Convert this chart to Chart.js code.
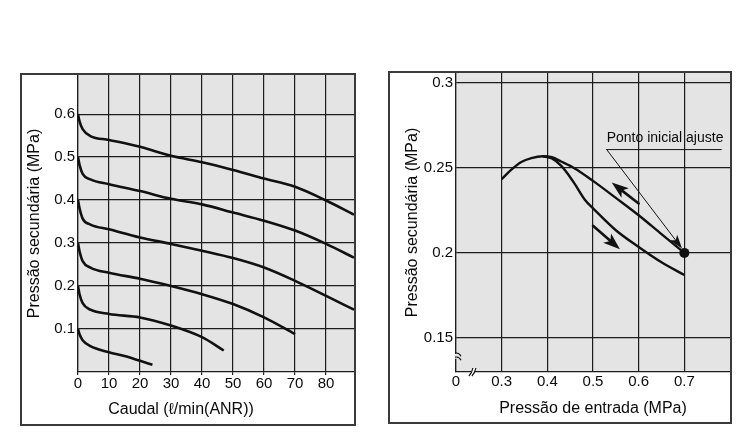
<!DOCTYPE html>
<html>
<head>
<meta charset="utf-8">
<script src="https://cdn.jsdelivr.net/npm/chart.js@4.4.1/dist/chart.umd.min.js"></script>
<style>
  body { margin: 0; background: #fff; width: 751px; height: 448px; position: relative; overflow: hidden; }
  .panel { position: absolute; border: 2px solid #3a3a3a; }
  #boxL { left: 20px; top: 73px; width: 332px; height: 349px; }
  #boxR { left: 388px; top: 71px; width: 340px; height: 349px; }
  canvas { display: block; }
</style>
</head>
<body>
<div class="panel" id="boxL"><canvas id="flowChart" width="332" height="349"></canvas></div>
<div class="panel" id="boxR"><canvas id="pressChart" width="340" height="349"></canvas></div>
<script>
// --- flow characteristics (left) ---
const flowAxis = [0, 0.5, 1.5, 4, 10, 20, 30, 40, 50, 60, 70, 80, 89];
const set06 = [0.6, 0.583, 0.565, 0.549, 0.540, 0.524, 0.503, 0.488, 0.470, 0.450, 0.431, 0.399, 0.366];
const set05 = [0.5, 0.482, 0.461, 0.448, 0.437, 0.421, 0.403, 0.390, 0.371, 0.352, 0.329, 0.298, 0.266];
const set04 = [0.4, 0.381, 0.357, 0.343, 0.332, 0.313, 0.298, 0.282, 0.265, 0.243, 0.212, 0.177, 0.145];
const flowAxis03 = [0, 0.5, 1.5, 4, 10, 20, 30, 40, 50, 60, 70];
const set03 = [0.3, 0.281, 0.258, 0.243, 0.231, 0.217, 0.200, 0.181, 0.158, 0.127, 0.088];
const flowAxis02 = [0, 0.5, 1.5, 4, 10, 20, 30, 40, 47];
const set02 = [0.2, 0.181, 0.160, 0.145, 0.135, 0.127, 0.108, 0.081, 0.050];
const flowAxis01 = [0, 0.5, 1.5, 4, 10, 15, 20, 24];
const set01 = [0.1, 0.088, 0.074, 0.060, 0.046, 0.037, 0.026, 0.017];
const flowTicks = [0, 10, 20, 30, 40, 50, 60, 70, 80];
const outletTicks = [0.1, 0.2, 0.3, 0.4, 0.5, 0.6];

// --- pressure characteristics (right) ---
const inletUpper = [0.3, 0.32, 0.343, 0.365, 0.39, 0.41, 0.43, 0.46, 0.5, 0.55, 0.6, 0.65, 0.7];
const outletUpper = [0.2433, 0.2486, 0.2534, 0.2557, 0.2568, 0.2562, 0.2537, 0.2496, 0.2423, 0.2323, 0.2221, 0.2110, 0.2000];
const inletLower = [0.39, 0.41, 0.43, 0.445, 0.46, 0.483, 0.5, 0.55, 0.6, 0.65, 0.7];
const outletLower = [0.2568, 0.2555, 0.2513, 0.2464, 0.2405, 0.2309, 0.2262, 0.2133, 0.2035, 0.1945, 0.1870];
const setPoint = { x: 0.7, y: 0.2 };
const inletTicks = [0.2, 0.3, 0.4, 0.5, 0.6, 0.7];
const inletTickLabels = ['0', '0.3', '0.4', '0.5', '0.6', '0.7'];
const outlet2Ticks = [0.15, 0.2, 0.25, 0.3];
const outlet2TickLabels = ['0.15', '0.2', '0.25', '0.3'];
const arrowFalling = [[0.6, 0.229], [0.541, 0.2413]];
const arrowRising = [[0.5, 0.2159], [0.559, 0.2021]];
const leader = [[0.781, 0.2607], [0.53, 0.2607], [0.695, 0.2025]];
const noteText = 'Ponto inicial ajuste';
const notePos = [0.53, 0.2676];
const breakY = 0.139;
const breakX = 0.237;

const FONT = '"Liberation Sans", Arial, sans-serif';
Chart.defaults.font.family = FONT;
Chart.defaults.color = '#0a0a0a';

const pts = (xs, ys) => xs.map((x, i) => ({ x: x, y: ys[i] }));

const gridStyle = { color: '#1c1c1c', lineWidth: 1.2 };

const plotBg = {
  id: 'plotBg',
  beforeDraw(chart) {
    const { ctx, chartArea: a } = chart;
    ctx.save();
    ctx.fillStyle = '#e4e4e4';
    ctx.fillRect(a.left, a.top, a.right - a.left, a.bottom - a.top);
    ctx.restore();
  }
};

function curve(data) {
  return {
    data: data,
    borderColor: '#111',
    borderWidth: 2.6,
    pointRadius: 0,
    fill: false,
    cubicInterpolationMode: 'monotone'
  };
}

// left x title is centred on the panel, not on the plot
const flowTitle = {
  id: 'flowTitle',
  afterDraw(chart) {
    const ctx = chart.ctx;
    ctx.save();
    ctx.font = '16px ' + FONT;
    ctx.fillStyle = '#0a0a0a';
    ctx.textAlign = 'center';
    ctx.textBaseline = 'middle';
    ctx.fillText('Caudal (\u2113/min(ANR))', 159, 335);
    ctx.restore();
  }
};

new Chart(document.getElementById('flowChart'), {
  type: 'scatter',
  data: {
    datasets: [
      curve(pts(flowAxis, set06)),
      curve(pts(flowAxis, set05)),
      curve(pts(flowAxis, set04)),
      curve(pts(flowAxis03, set03)),
      curve(pts(flowAxis02, set02)),
      curve(pts(flowAxis01, set01))
    ].map(d => Object.assign(d, { showLine: true }))
  },
  options: {
    responsive: false,
    animation: false,
    devicePixelRatio: 1,
    layout: { padding: 0, autoPadding: false },
    plugins: { legend: { display: false }, tooltip: { enabled: false } },
    scales: {
      x: {
        type: 'linear', min: 0, max: 89,
        afterBuildTicks: s => { s.ticks = flowTicks.map(v => ({ value: v })); },
        afterFit: s => { s.height = 52; s.paddingLeft = 0; s.paddingRight = 0; },
        ticks: { font: { size: 15 }, padding: 0, maxRotation: 0, callback: (v, i) => String(flowTicks[i]) },
        grid: Object.assign({ tickLength: 3 }, gridStyle),
        border: { color: '#1c1c1c', width: 1.2 }
      },
      y: {
        type: 'linear', min: 0, max: 0.691,
        afterBuildTicks: s => { s.ticks = outletTicks.map(v => ({ value: v })); },
        afterFit: s => { s.width = 56; s.paddingTop = 0; s.paddingBottom = 0; },
        ticks: { font: { size: 15 }, padding: 3, callback: (v, i) => String(outletTicks[i]) },
        grid: Object.assign({ drawTicks: false }, gridStyle),
        border: { color: '#1c1c1c', width: 1.2 },
        title: { display: true, text: 'Pressão secundária (MPa)', font: { size: 16 }, padding: { top: 3, bottom: 0 } }
      }
    }
  },
  plugins: [plotBg, flowTitle]
});

function arrow(ctx, x1, y1, x2, y2, w, len, half) {
  const dx = x2 - x1, dy = y2 - y1, d = Math.hypot(dx, dy);
  const ux = dx / d, uy = dy / d, nx = -uy, ny = ux;
  ctx.lineWidth = w;
  ctx.beginPath();
  ctx.moveTo(x1, y1);
  ctx.lineTo(x2 - ux * len * 0.6, y2 - uy * len * 0.6);
  ctx.stroke();
  ctx.beginPath();
  ctx.moveTo(x2, y2);
  ctx.lineTo(x2 - ux * len + nx * half, y2 - uy * len + ny * half);
  ctx.lineTo(x2 - ux * len * 0.75, y2 - uy * len * 0.75);
  ctx.lineTo(x2 - ux * len - nx * half, y2 - uy * len - ny * half);
  ctx.closePath();
  ctx.fill();
}

const notes = {
  id: 'notes',
  afterDatasetsDraw(chart) {
    const { ctx, scales: { x, y } } = chart;
    const px = p => [x.getPixelForValue(p[0]), y.getPixelForValue(p[1])];
    ctx.save();
    ctx.strokeStyle = '#111';
    ctx.fillStyle = '#111';
    ctx.lineCap = 'round';
    // flow direction arrows
    let a = px(arrowFalling[0]), b = px(arrowFalling[1]);
    arrow(ctx, a[0], a[1], b[0], b[1], 2.6, 17, 6);
    a = px(arrowRising[0]); b = px(arrowRising[1]);
    arrow(ctx, a[0], a[1], b[0], b[1], 2.6, 17, 6);
    // leader to the setting point
    const L = leader.map(px);
    ctx.lineWidth = 1;
    ctx.beginPath();
    ctx.moveTo(L[0][0], L[0][1]);
    ctx.lineTo(L[1][0], L[1][1]);
    ctx.stroke();
    arrow(ctx, L[1][0], L[1][1], L[2][0], L[2][1], 1, 14, 4.5);
    // label
    const t = px(notePos);
    ctx.font = '14px ' + FONT;
    ctx.fillStyle = '#0a0a0a';
    ctx.textAlign = 'left';
    ctx.textBaseline = 'middle';
    ctx.fillText(noteText, t[0], t[1]);
    ctx.restore();
  },
  afterDraw(chart) {
    // axis break marks
    const { ctx, chartArea: a, scales: { x, y } } = chart;
    const yb = y.getPixelForValue(breakY);
    const xb = x.getPixelForValue(breakX);
    ctx.save();
    ctx.strokeStyle = '#111';
    ctx.lineWidth = 1.2;
    ctx.fillStyle = '#e4e4e4';
    ctx.fillRect(a.left - 1, yb - 3, 3, 5);
    for (const k of [-2.5, 1.5]) {
      ctx.beginPath();
      ctx.moveTo(a.left - 1, yb + k - 1);
      ctx.quadraticCurveTo(a.left + 3, yb + k - 2, a.left + 5, yb + k + 2);
      ctx.stroke();
    }
    ctx.fillStyle = '#fff';
    ctx.beginPath();
    ctx.moveTo(xb - 4, a.bottom + 4);
    ctx.lineTo(xb, a.bottom - 4);
    ctx.lineTo(xb + 3, a.bottom - 4);
    ctx.lineTo(xb - 1, a.bottom + 4);
    ctx.closePath();
    ctx.fill();
    for (const k of [0, 3]) {
      ctx.beginPath();
      ctx.moveTo(xb - 4 + k, a.bottom + 4);
      ctx.quadraticCurveTo(xb - 1 + k, a.bottom + 1, xb + k, a.bottom - 4);
      ctx.stroke();
    }
    ctx.restore();
  }
};

new Chart(document.getElementById('pressChart'), {
  type: 'scatter',
  data: {
    datasets: [
      Object.assign(curve(pts(inletUpper, outletUpper)), { showLine: true, borderWidth: 2.4 }),
      Object.assign(curve(pts(inletLower, outletLower)), { showLine: true, borderWidth: 2.4 }),
      { data: [setPoint], pointRadius: 5, pointBackgroundColor: '#111', pointBorderWidth: 0, showLine: false }
    ]
  },
  options: {
    responsive: false,
    animation: false,
    devicePixelRatio: 1,
    layout: { padding: 0, autoPadding: false },
    plugins: { legend: { display: false }, tooltip: { enabled: false } },
    scales: {
      x: {
        type: 'linear', min: 0.2, max: 0.8,
        afterBuildTicks: s => { s.ticks = inletTicks.map(v => ({ value: v })); },
        afterFit: s => { s.height = 50; s.paddingLeft = 0; s.paddingRight = 0; },
        ticks: { font: { size: 15 }, padding: 1, maxRotation: 0, callback: (v, i) => inletTickLabels[i] },
        grid: Object.assign({ drawTicks: false }, gridStyle),
        border: { color: '#1c1c1c', width: 1.2 },
        title: { display: true, text: 'Pressão de entrada (MPa)', font: { size: 16 }, padding: { top: 0, bottom: 4 } }
      },
      y: {
        type: 'linear', min: 0.13, max: 0.3057,
        afterBuildTicks: s => { s.ticks = outlet2Ticks.map(v => ({ value: v })); },
        afterFit: s => { s.width = 66; s.paddingTop = 0; s.paddingBottom = 0; },
        ticks: { font: { size: 15 }, padding: 3, callback: (v, i) => outlet2TickLabels[i] },
        grid: Object.assign({ drawTicks: false }, gridStyle),
        border: { color: '#1c1c1c', width: 1.2 },
        title: { display: true, text: 'Pressão secundária (MPa)', font: { size: 16 }, padding: { top: 13, bottom: 0 } }
      }
    }
  },
  plugins: [plotBg, notes]
});
</script>
</body>
</html>
